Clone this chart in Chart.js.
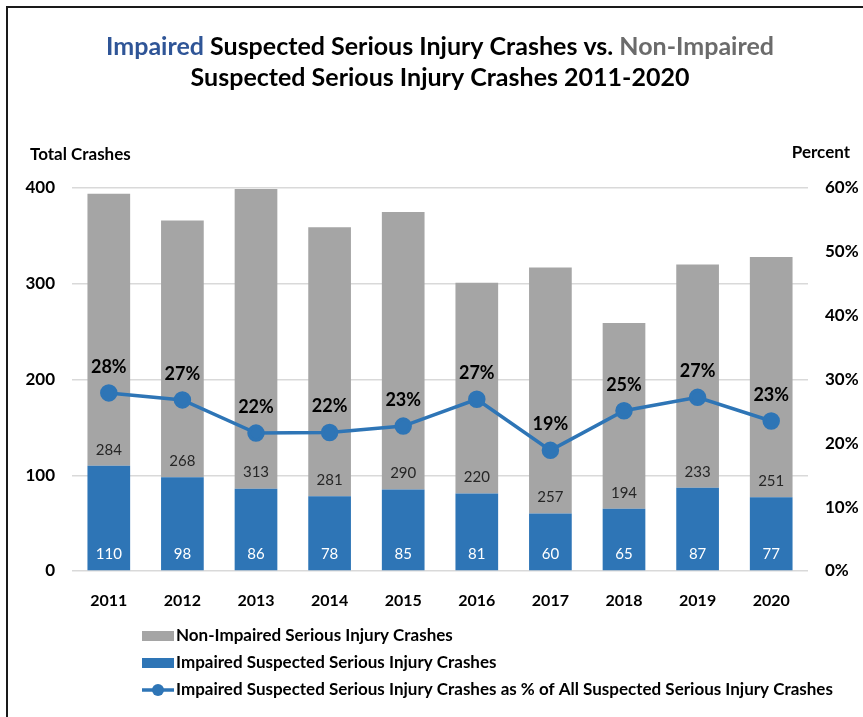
<!DOCTYPE html>
<html>
<head>
<meta charset="utf-8">
<script src="https://cdn.jsdelivr.net/npm/chart.js@4"></script>
<style>
  html, body { margin: 0; padding: 0; background: #fff; }
  #wrap { position: relative; width: 863px; height: 717px; }
</style>
</head>
<body>
<div id="wrap"><canvas id="crashChart" width="863" height="717"></canvas></div>
<script>
// Chart data
const years = ['2011', '2012', '2013', '2014', '2015', '2016', '2017', '2018', '2019', '2020'];
const impaired = [110, 98, 86, 78, 85, 81, 60, 65, 87, 77];
const nonImpaired = [284, 268, 313, 281, 290, 220, 257, 194, 233, 251];
const impairedPct = [27.9, 26.8, 21.6, 21.7, 22.7, 26.9, 18.9, 25.1, 27.2, 23.5];
const pctLabels = ['28%', '27%', '22%', '22%', '23%', '27%', '19%', '25%', '27%', '23%'];
const leftTicks = [0, 100, 200, 300, 400];
const rightTicks = [0, 10, 20, 30, 40, 50, 60];

const BLUE = '#2E75B6';
const GRAY = '#A5A5A5';
const FONT = 'Lato, "Open Sans", sans-serif';

// Title, axis titles, frame and legend
const decorPlugin = {
    id: 'decor',
    afterDraw(chart) {
        const ctx = chart.ctx;
        ctx.save();

        // frame (left and top only)
        ctx.strokeStyle = '#1a1a1a';
        ctx.lineWidth = 2;
        ctx.beginPath();
        ctx.moveTo(7, 717);
        ctx.lineTo(7, 7);
        ctx.lineTo(863, 7);
        ctx.stroke();

        // title with coloured words
        ctx.font = 'bold 25px ' + FONT;
        ctx.textBaseline = 'middle';
        ctx.textAlign = 'left';
        const line1 = [
            ['Impaired', '#2F5597'],
            [' Suspected Serious Injury Crashes vs. ', '#000'],
            ['Non-Impaired', '#6B6B6B']
        ];
        let total = line1.reduce((s, p) => s + ctx.measureText(p[0]).width, 0);
        let x = 440 - total / 2;
        line1.forEach(p => {
            ctx.fillStyle = p[1];
            ctx.fillText(p[0], x, 47);
            x += ctx.measureText(p[0]).width;
        });
        ctx.textAlign = 'center';
        ctx.fillStyle = '#000';
        ctx.fillText('Suspected Serious Injury Crashes 2011-2020', 440, 78);

        // axis titles
        ctx.font = 'bold 17px ' + FONT;
        ctx.textAlign = 'left';
        ctx.fillText('Total Crashes', 30, 155);
        ctx.textAlign = 'right';
        ctx.fillText('Percent', 850, 153);

        // legend
        ctx.font = 'bold 17px ' + FONT;
        ctx.textAlign = 'left';
        ctx.fillStyle = GRAY;
        ctx.fillRect(142, 631, 32, 10);
        ctx.fillStyle = BLUE;
        ctx.fillRect(142, 658, 32, 10);
        ctx.strokeStyle = BLUE;
        ctx.lineWidth = 3.5;
        ctx.beginPath();
        ctx.moveTo(142, 690);
        ctx.lineTo(174, 690);
        ctx.stroke();
        ctx.beginPath();
        ctx.arc(158, 690, 6, 0, Math.PI * 2);
        ctx.fillStyle = BLUE;
        ctx.fill();
        ctx.fillStyle = '#000';
        ctx.fillText('Non-Impaired Serious Injury Crashes', 176, 636);
        ctx.fillText('Impaired Suspected Serious Injury Crashes', 176, 663);
        ctx.fillText('Impaired Suspected Serious Injury Crashes as % of All Suspected Serious Injury Crashes', 176, 690);

        ctx.restore();
    }
};

// Value labels on bars and points
const labelPlugin = {
    id: 'valueLabels',
    afterDatasetsDraw(chart) {
        const ctx = chart.ctx;
        ctx.save();
        ctx.textAlign = 'center';
        ctx.textBaseline = 'middle';

        const blueMeta = chart.getDatasetMeta(1);
        const grayMeta = chart.getDatasetMeta(2);
        const lineMeta = chart.getDatasetMeta(0);

        ctx.font = '15px ' + FONT;
        blueMeta.data.forEach((bar, i) => {
            ctx.fillStyle = '#fff';
            ctx.fillText(impaired[i], bar.x, bar.base - 16);
            ctx.fillStyle = '#262626';
            ctx.fillText(nonImpaired[i], grayMeta.data[i].x, bar.y - 16);
        });

        ctx.font = 'bold 18px ' + FONT;
        ctx.fillStyle = '#000';
        lineMeta.data.forEach((pt, i) => {
            ctx.fillText(pctLabels[i], pt.x, pt.y - 26);
        });
        ctx.restore();
    }
};

Chart.defaults.font.family = FONT;
Chart.defaults.color = '#000';

new Chart(document.getElementById('crashChart'), {
    type: 'bar',
    data: {
        labels: years,
        datasets: [
            {
                type: 'line',
                label: 'Impaired Suspected Serious Injury Crashes as % of All Suspected Serious Injury Crashes',
                data: impairedPct,
                yAxisID: 'y1',
                borderColor: BLUE,
                backgroundColor: BLUE,
                borderWidth: 3.5,
                pointRadius: 7,
                pointHoverRadius: 7,
                tension: 0,
                order: 0
            },
            {
                label: 'Impaired Suspected Serious Injury Crashes',
                data: impaired,
                backgroundColor: BLUE,
                stack: 'crashes',
                yAxisID: 'y',
                order: 1
            },
            {
                label: 'Non-Impaired Serious Injury Crashes',
                data: nonImpaired,
                backgroundColor: GRAY,
                stack: 'crashes',
                yAxisID: 'y',
                order: 1
            }
        ]
    },
    options: {
        responsive: false,
        animation: false,
        layout: { padding: { top: 188, left: 0, right: 0, bottom: 0 } },
        datasets: {
            bar: { categoryPercentage: 1, barPercentage: 0.58 }
        },
        plugins: {
            legend: { display: false },
            title: { display: false },
            tooltip: { enabled: false }
        },
        scales: {
            x: {
                stacked: true,
                grid: { display: false },
                border: { display: false },
                ticks: { font: { size: 16, weight: 'bold' }, padding: 12 },
                afterFit(scale) { scale.height = 146; }
            },
            y: {
                stacked: true,
                position: 'left',
                min: 0,
                max: 400,
                afterBuildTicks(scale) { scale.ticks = leftTicks.map(v => ({ value: v })); },
                grid: { color: '#D9D9D9', lineWidth: 1.5, drawTicks: false },
                border: { display: false },
                ticks: { font: { size: 17, weight: 'bold' }, padding: 17 },
                afterFit(scale) { scale.width = 72; }
            },
            y1: {
                position: 'right',
                min: 0,
                max: 60,
                afterBuildTicks(scale) { scale.ticks = rightTicks.map(v => ({ value: v })); },
                grid: { display: false, drawTicks: false },
                border: { display: false },
                ticks: {
                    font: { size: 17, weight: 'bold' },
                    padding: 17,
                    callback: v => v + '%'
                },
                afterFit(scale) { scale.width = 55; }
            }
        }
    },
    plugins: [decorPlugin, labelPlugin]
});
</script>
</body>
</html>
